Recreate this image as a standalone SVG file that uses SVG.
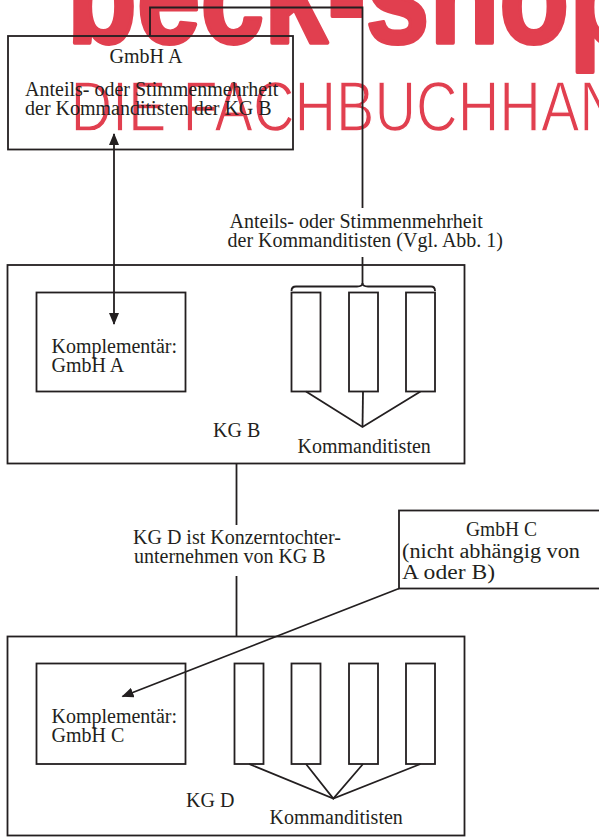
<svg xmlns="http://www.w3.org/2000/svg" width="599" height="837" viewBox="0 0 599 837">
<style>
.wm{fill:#e13f4f;font-family:"Liberation Sans","DejaVu Sans",sans-serif}
.box{fill:none;stroke:#231f20;stroke-width:1.8}
.ln{fill:none;stroke:#231f20;stroke-width:1.8}
.t{font-family:"Liberation Serif","Times New Roman",serif;font-size:20px;fill:#231f20}
.m{text-anchor:middle}
</style>
<defs>
<marker id="ah" viewBox="0 0 12 10" refX="11" refY="5" markerWidth="12" markerHeight="10" markerUnits="userSpaceOnUse" orient="auto-start-reverse">
<path d="M0,0 L12,5 L0,10 z" fill="#231f20"/>
</marker>
</defs>
<rect width="599" height="837" fill="#fff"/>
<g id="watermark">
<text class="wm" x="67" y="43" font-size="138" font-weight="bold" textLength="572" lengthAdjust="spacingAndGlyphs" stroke="#e13f4f" stroke-width="4" stroke-linejoin="round">beck-shop</text>
<text class="wm" x="70.5" y="131" font-size="70" textLength="752" lengthAdjust="spacingAndGlyphs" stroke="#fff" stroke-width="1.4">DIE FACHBUCHHANDLUNG</text>
</g>
<g id="connectors">
<polyline class="ln" points="150,36 150,7.5 362.5,7.5 362.5,208"/>
<line class="ln" x1="362.5" y1="257" x2="362.5" y2="284"/>
<path class="ln" d="M291.5,291 Q291.5,286.5 296,286.5 L357,286.5 Q362.5,286.5 362.5,283 Q362.5,286.5 368,286.5 L431,286.5 Q435,286.5 435,291"/>
<line class="ln" x1="114" y1="134" x2="114" y2="324" marker-start="url(#ah)" marker-end="url(#ah)"/>
<line class="ln" x1="236.5" y1="463" x2="236.5" y2="525"/>
<line class="ln" x1="236.5" y1="576" x2="236.5" y2="636.5"/>
<line class="ln" x1="399" y1="588.5" x2="122.5" y2="696.5" marker-end="url(#ah)"/>
<polyline class="ln" points="306,391.5 362.5,427 420.5,391.5"/>
<line class="ln" x1="363" y1="391.5" x2="362.5" y2="427"/>
<polyline class="ln" points="249,764 333.3,798.5 420.5,764"/>
<polyline class="ln" points="306,764 333.3,798.5 363,764"/>
</g>
<g id="gmbhA">
<rect class="box" x="8" y="36" width="285" height="113.5"/>
<text class="t m" x="146" y="63">GmbH A</text>
<text class="t" x="25" y="96">Anteils- oder Stimmenmehrheit</text>
<text class="t" x="25" y="115">der Kommanditisten der KG B</text>
</g>
<g id="label-top">
<text class="t" x="229.5" y="227.5">Anteils- oder Stimmenmehrheit</text>
<text class="t" x="227.5" y="246.5">der Kommanditisten (Vgl. Abb. 1)</text>
</g>
<g id="kgB">
<rect class="box" x="7.5" y="265" width="457" height="198.5"/>
<text class="t" x="213" y="437">KG B</text>
</g>
<g id="komplA">
<rect class="box" x="36.5" y="292.5" width="149" height="99"/>
<text class="t" x="51.5" y="353">Komplementär:</text>
<text class="t" x="51.5" y="372">GmbH A</text>
</g>
<g id="kommB">
<rect class="box" x="291.5" y="292.5" width="29" height="99"/>
<rect class="box" x="349" y="292.5" width="29" height="99"/>
<rect class="box" x="406" y="292.5" width="29" height="99"/>
<text class="t" x="297.5" y="453">Kommanditisten</text>
</g>
<g id="label-mid">
<text class="t" x="133" y="544">KG D ist Konzerntochter-</text>
<text class="t" x="134" y="563">unternehmen von KG B</text>
</g>
<g id="gmbhC">
<rect class="box" x="399" y="510.5" width="210" height="78"/>
<text class="t" x="466" y="535.5" textLength="71" lengthAdjust="spacingAndGlyphs">GmbH C</text>
<text class="t" x="402" y="557.5" textLength="178" lengthAdjust="spacingAndGlyphs">(nicht abhängig von</text>
<text class="t" x="402" y="579" textLength="93" lengthAdjust="spacingAndGlyphs">A oder B)</text>
</g>
<g id="kgD">
<rect class="box" x="7.5" y="636.5" width="457" height="199"/>
<text class="t" x="186" y="807">KG D</text>
</g>
<g id="komplC">
<rect class="box" x="36.5" y="663.5" width="149" height="100.5"/>
<text class="t" x="51.5" y="723">Komplementär:</text>
<text class="t" x="51.5" y="742">GmbH C</text>
</g>
<g id="kommD">
<rect class="box" x="234.5" y="663.5" width="29" height="100.5"/>
<rect class="box" x="291.5" y="663.5" width="29" height="100.5"/>
<rect class="box" x="349" y="663.5" width="29" height="100.5"/>
<rect class="box" x="406" y="663.5" width="29" height="100.5"/>
<text class="t" x="269.5" y="823.5">Kommanditisten</text>
</g>
</svg>
